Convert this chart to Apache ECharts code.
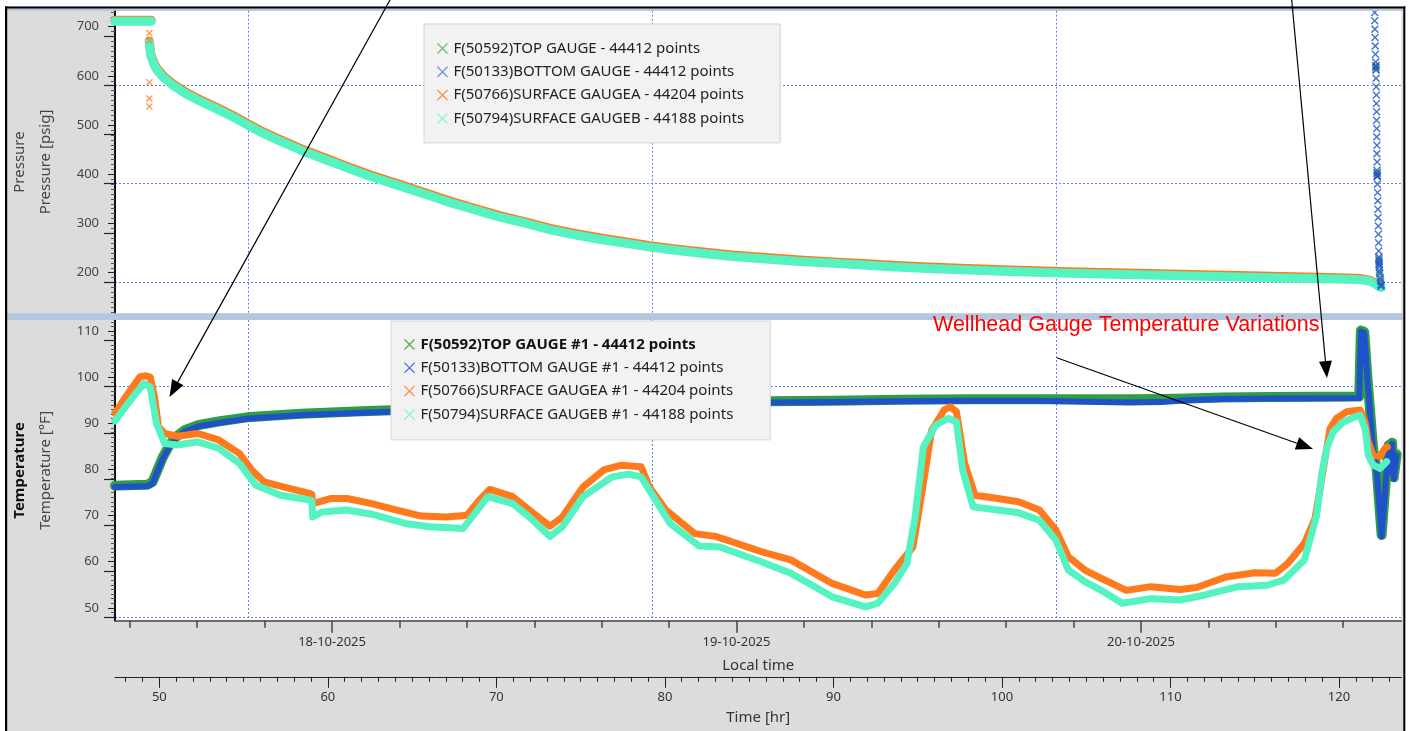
<!DOCTYPE html>
<html><head><meta charset="utf-8">
<script src="https://cdn.jsdelivr.net/npm/echarts@6/dist/echarts.min.js"></script>
<style>html,body{margin:0;padding:0;background:#fff;overflow:hidden}#c{width:1409px;height:731px;}</style>
</head><body><div id="c"></div><script>
// ---------------- DATA ----------------
const P_NAMES = ['F(50592)TOP GAUGE - 44412 points','F(50133)BOTTOM GAUGE - 44412 points','F(50766)SURFACE GAUGEA - 44204 points','F(50794)SURFACE GAUGEB - 44188 points'];
const T_NAMES = ['F(50592)TOP GAUGE #1 - 44412 points','F(50133)BOTTOM GAUGE #1 - 44412 points','F(50766)SURFACE GAUGEA #1 - 44204 points','F(50794)SURFACE GAUGEB #1 - 44188 points'];

// pressure [hr, psig]
const presB = [[47.37,711],[49.52,711],[49.45,null],[49.40,668],[49.5,640],[49.7,622],[49.9,610],[50.3,595],[50.84,580],[51.6,563],[52.4,549],[53.4,533],[54.4,516],[55.3,499],[56.0,486],[57.0,470],[58.4,449],[60.0,428],[61.3,411],[62.5,396],[64.3,376],[66.0,357],[67.2,343],[68.5,330],[70.2,313],[72.0,298],[73.2,287],[74.5,278],[76.1,268],[78.0,258],[79.1,252],[80.5,246],[82.0,240],[84.0,233],[86.0,228],[88.0,223],[90.0,219],[92.0,215],[94.0,211],[96.0,208],[98.0,205.5],[100.0,203],[104.0,199],[108.0,196],[112.0,193],[116.0,190],[120.0,187],[121.3,185.5],[121.8,183],[122.1,178],[122.3,174],[122.5,170]];
const presA = [[47.37,713],[49.52,713],[49.45,null],[49.40,671],[49.5,643],[49.7,625],[49.9,613],[50.3,598],[50.84,583],[51.6,566],[52.4,552],[53.4,536],[54.4,519],[55.3,502],[56.0,489],[57.0,473],[58.4,452],[60.0,431],[61.3,414],[62.5,399],[64.3,379],[66.0,360],[67.2,346],[68.5,333],[70.2,316],[72.0,301],[73.2,290],[74.5,281],[76.1,271],[78.0,261],[79.1,255],[80.5,249],[82.0,243],[84.0,236],[86.0,231],[88.0,226],[90.0,222],[92.0,218],[94.0,214],[96.0,211],[98.0,208.5],[100.0,206],[104.0,202],[108.0,199],[112.0,196],[116.0,193],[120.0,190],[121.3,188],[121.8,185],[122.1,180]];
const presAOutliers = [[49.41,687],[49.41,672],[49.41,587],[49.41,554],[49.41,538]];
const presBottom = [[122.12,729],[122.12,712],[122.13,695],[122.14,678],[122.15,661],[122.16,644],[122.18,628],[122.19,620],[122.19,617],[122.2,612],[122.2,595],[122.21,578],[122.22,561],[122.22,544],[122.23,527],[122.23,510],[122.24,493],[122.24,476],[122.25,459],[122.25,442],[122.26,425],[122.26,408],[122.26,402],[122.27,398],[122.27,395],[122.28,380],[122.29,363],[122.3,346],[122.31,329],[122.32,312],[122.33,295],[122.34,278],[122.35,261],[122.36,244],[122.37,232],[122.37,226],[122.38,222],[122.38,218],[122.39,212],[122.4,205],[122.42,198],[122.45,190],[122.47,182],[122.49,176],[122.5,172]];
const presTop = [[122.19,621],[122.2,613],[122.26,403],[122.27,396],[122.37,229],[122.38,216],[122.4,201],[122.46,186],[122.5,175]];

// temperature [hr, degF]
const tempTop = [[47.37,76.5],[49.3,76.7],[49.6,77.3],[49.85,79.5],[50.2,82.6],[50.6,85.3],[51.0,87.1],[51.5,88.5],[52.3,89.6],[53.5,90.4],[55.2,91.3],[58.4,92.1],[62.0,92.6],[66.0,93.1],[70.0,93.6],[74.0,94.0],[78.0,94.3],[82.0,94.6],[86.0,94.8],[90.0,94.9],[94.0,95.1],[98.0,95.2],[102.0,95.2],[105.0,95.2],[107.5,95.2],[109.5,95.3],[111.0,95.4],[113.0,95.6],[116.0,95.7],[121.2,95.8],[121.3,110.1],[121.5,109.8],[121.7,99.3],[122.03,84.3],[122.23,80.3],[122.53,65.8],[122.83,80.3],[122.95,85.3],[123.05,79.8],[123.15,85.8],[123.25,78.3],[123.42,83.3]];
const tempBottom = [[47.37,76.2],[49.3,76.4],[49.6,77.0],[49.85,79.2],[50.2,82.3],[50.6,85.0],[51.0,86.8],[51.5,88.2],[52.3,89.3],[53.5,90.1],[55.2,91.0],[58.4,91.8],[62.0,92.3],[66.0,92.8],[70.0,93.3],[74.0,93.7],[78.0,94.0],[82.0,94.3],[86.0,94.5],[90.0,94.6],[94.0,94.8],[98.0,94.9],[102.0,94.9],[105.0,94.7],[107.5,94.5],[109.5,94.6],[111.0,95.0],[113.0,95.3],[116.0,95.4],[121.2,95.5],[121.3,109.9],[121.5,109.6],[121.7,99.0],[122.03,84.0],[122.23,80.0],[122.53,65.5],[122.83,80.0],[122.95,85.0],[123.05,79.5],[123.15,85.5],[123.25,78.0],[123.42,83.0]];
const tempA = [[47.37,92.2],[48.07,96.1],[48.85,100.1],[49.2,100.3],[49.46,100.0],[49.71,95.8],[49.95,89.3],[50.32,87.8],[51.06,87.2],[52.29,87.8],[53.52,86.4],[54.75,83.5],[55.48,79.9],[56.22,77.3],[57.7,75.9],[58.92,74.8],[59.05,74.6],[59.1,72.6],[60.15,73.7],[61.14,73.7],[62.61,72.6],[64.09,71.2],[65.56,69.9],[67.03,69.7],[68.26,70.1],[69.0,73.4],[69.62,75.7],[70.97,74.1],[71.95,71.2],[73.18,67.7],[73.92,69.7],[75.14,76.2],[76.37,79.9],[77.36,80.9],[78.59,80.6],[79.08,76.2],[80.06,71.2],[81.78,66.1],[83.01,65.5],[84.24,64.0],[85.71,62.2],[87.47,60.4],[89.93,55.3],[91.9,52.8],[92.63,53.1],[93.62,58.2],[94.72,63.2],[95.21,74.1],[95.83,88.5],[96.57,92.9],[96.93,93.6],[97.3,92.5],[97.79,81.3],[98.41,74.4],[99.76,73.7],[100.99,73.0],[102.22,71.2],[103.2,66.9],[103.94,61.1],[104.92,58.2],[105.9,56.4],[107.38,53.8],[108.85,54.6],[110.57,54.0],[111.56,54.4],[113.28,56.7],[115.0,57.6],[116.23,57.5],[116.96,59.6],[117.95,64.0],[118.58,69.4],[118.88,75.9],[119.47,88.9],[119.86,91.1],[120.46,92.5],[121.25,92.9],[121.55,90.3],[121.74,86.0],[122.03,83.1],[122.43,82.8],[122.73,84.6],[122.87,84.9]];
const tempB = [[47.37,90.5],[48.07,94.0],[48.6,96.5],[49.09,98.6],[49.46,97.9],[49.83,90.0],[50.32,85.6],[51.06,85.3],[52.29,86.0],[53.52,84.6],[54.75,81.3],[55.73,76.6],[57.2,74.4],[58.92,73.4],[59.05,73.2],[59.1,69.7],[59.66,70.8],[61.14,71.2],[62.61,70.3],[64.58,68.3],[66.05,67.6],[68.02,67.2],[69.49,74.1],[70.97,72.6],[71.95,69.7],[73.18,65.5],[73.92,67.6],[75.14,74.1],[76.87,78.4],[77.85,79.0],[78.59,78.4],[79.32,74.1],[80.31,68.3],[82.03,63.4],[83.26,63.2],[85.71,60.0],[87.47,57.5],[89.93,52.4],[91.9,50.2],[92.63,51.0],[93.62,55.3],[94.36,59.6],[94.85,69.7],[95.34,84.9],[96.07,89.6],[96.81,91.1],[97.3,90.3],[97.67,79.9],[98.29,71.9],[99.76,71.2],[100.99,70.6],[102.22,69.0],[103.2,64.7],[103.94,58.2],[104.92,55.7],[105.9,53.8],[107.13,51.0],[108.85,52.0],[110.57,51.7],[112.05,52.8],[114.02,54.6],[115.74,54.9],[116.72,56.0],[117.95,60.4],[118.68,70.1],[118.97,78.8],[119.27,84.6],[119.66,88.2],[120.26,90.3],[120.76,91.1],[121.25,91.8],[121.55,88.9],[121.74,83.1],[122.03,81.0],[122.43,80.2],[122.73,81.3],[122.83,81.7]];

// axes / ticks
const hrRange = [47.37, 123.71];
const presRange = [117.5, 732.5];
const tempRange = [47.2, 112.4];
const presLabels = [200, 300, 400, 500, 600, 700];
const presLongTicks = [181, 281, 381, 481, 581, 681];
const presGrid = [181, 381, 581];
const tempLabels = [50, 60, 70, 80, 90, 100, 110];
const tempLongTicks = [47.95, 57.95, 67.95, 77.95, 87.95, 97.95, 107.95];
const tempGrid = [47.95, 97.95];
const hrLabels = [50, 60, 70, 80, 90, 100, 110, 120];
const dayTicks = [60.25, 84.25, 108.25];
const dayLabels = ['18-10-2025', '19-10-2025', '20-10-2025'];
const fourHourTicks = [48.25, 52.25, 56.25, 64.25, 68.25, 72.25, 76.25, 80.25, 88.25, 92.25, 96.25, 100.25, 104.25, 112.25, 116.25, 120.25];
const timeGrid = [55.25, 79.25, 103.25];

// ---------------- STYLE ----------------
const FONT = '"Noto Sans", "Open Sans", sans-serif';
const C = { green: '#2f9e44', blue: '#1f52c8', orange: '#ff7a1c', aqua: '#55f2c2' };
const LC = ['#4caf50', '#4a70dd', '#ff8c40', '#8ff0d4'];
const X_PATH = 'path://M0,8L8,0L50,42L92,0L100,8L58,50L100,92L92,100L50,58L8,100L0,92L42,50Z';
const X_BOLD = 'path://M0,13L13,0L50,37L87,0L100,13L63,50L100,87L87,100L50,63L13,100L0,87L37,50Z';
const GRIDLINE = { show: true, lineStyle: { color: '#5b82ee', width: 1, type: [2, 2] } };
const AX = '#222';

function hiddenGridAxis(extra) {
  return Object.assign({ type: 'value', axisLine: { show: false }, axisLabel: { show: false },
    splitLine: GRIDLINE, minorTick: { show: false } }, extra);
}

const chart = echarts.init(document.getElementById('c'), null, { renderer: 'canvas' });

function arrow(x1, y1, x2, y2) {
  const dx = x2 - x1, dy = y2 - y1, L = Math.hypot(dx, dy), ux = dx / L, uy = dy / L;
  const hl = 17, hw = 6.5;
  const bx = x2 - ux * hl, by = y2 - uy * hl;
  return [
    { type: 'line', z: 100, silent: true, shape: { x1: x1, y1: y1, x2: bx, y2: by }, style: { stroke: '#000', lineWidth: 1.2 } },
    { type: 'polygon', z: 100, silent: true, shape: { points: [[x2, y2], [bx - uy * hw, by + ux * hw], [bx + uy * hw, by - ux * hw]] }, style: { fill: '#000' } }
  ];
}

const option = {
  animation: false,
  backgroundColor: '#dcdcdc',
  grid: [
    { left: 115, top: 10.7, width: 1286.5, height: 302.6, show: true, backgroundColor: '#fff', borderWidth: 0, outerBoundsMode: 'none', containLabel: false },
    { left: 115, top: 320, width: 1286.5, height: 300.8, show: true, backgroundColor: '#fff', borderWidth: 0, outerBoundsMode: 'none', containLabel: false }
  ],
  xAxis: [
    hiddenGridAxis({ gridIndex: 0, min: hrRange[0], max: hrRange[1], position: 'bottom', axisTick: { show: false, customValues: timeGrid } }),
    { gridIndex: 1, type: 'value', min: hrRange[0], max: hrRange[1], splitNumber: 8, position: 'bottom', offset: 56,
      axisLine: { show: true, lineStyle: { color: AX, width: 1 } },
      axisTick: { show: true, length: 11, customValues: hrLabels, lineStyle: { color: AX } },
      minorTick: { show: true, splitNumber: 10, length: 5, lineStyle: { color: AX } },
      axisLabel: { customValues: hrLabels, margin: 14, color: '#333', fontSize: 13, fontFamily: FONT },
      splitLine: { show: false },
      name: 'Time [hr]', nameLocation: 'middle', nameGap: 33, nameTextStyle: { color: '#333', fontSize: 15, fontFamily: FONT } },
    { gridIndex: 1, type: 'value', min: hrRange[0], max: hrRange[1], position: 'bottom', offset: 0,
      axisLine: { show: true, lineStyle: { color: '#444', width: 1.5 } },
      axisTick: { show: true, length: 12, customValues: dayTicks, lineStyle: { color: '#444', width: 1.5 } },
      minorTick: { show: false },
      axisLabel: { customValues: dayTicks, margin: 15, color: '#333', fontSize: 13, fontFamily: FONT,
        formatter: v => { let bi = 0; dayTicks.forEach((d, i) => { if (Math.abs(d - v) < Math.abs(dayTicks[bi] - v)) bi = i; }); return dayLabels[bi]; } },
      splitLine: { show: false },
      name: 'Local time', nameLocation: 'middle', nameGap: 37, nameTextStyle: { color: '#333', fontSize: 15, fontFamily: FONT } },
    { gridIndex: 1, type: 'value', min: hrRange[0], max: hrRange[1], position: 'bottom', offset: 0,
      axisLine: { show: false },
      axisTick: { show: true, length: 7, customValues: fourHourTicks, lineStyle: { color: '#444', width: 1.5 } },
      minorTick: { show: false }, axisLabel: { show: false }, splitLine: { show: false } },
    hiddenGridAxis({ gridIndex: 1, min: hrRange[0], max: hrRange[1], position: 'bottom', axisTick: { show: false, customValues: timeGrid } })
  ],
  yAxis: [
    { gridIndex: 0, type: 'value', min: presRange[0], max: presRange[1], position: 'left',
      axisLine: { show: true, lineStyle: { color: '#000', width: 1.5 } },
      axisTick: { show: true, length: 7, customValues: presLabels, lineStyle: { color: AX } },
      minorTick: { show: true, splitNumber: 10, length: 4, lineStyle: { color: '#555' } },
      axisLabel: { customValues: presLabels, margin: 16, color: '#444', fontSize: 13, fontFamily: FONT },
      splitLine: { show: false },
      name: 'Pressure [psig]', nameLocation: 'middle', nameRotate: 90, nameGap: 62, nameTextStyle: { color: '#444', fontSize: 15, fontFamily: FONT } },
    { gridIndex: 0, type: 'value', min: presRange[0], max: presRange[1], position: 'left',
      axisLine: { show: true, lineStyle: { color: '#000', width: 1.5 } },
      axisTick: { show: true, length: 11, customValues: presLongTicks, lineStyle: { color: AX, width: 1.2 } },
      minorTick: { show: false }, axisLabel: { show: false }, splitLine: { show: false },
      name: 'Pressure', nameLocation: 'middle', nameRotate: 90, nameGap: 88, nameTextStyle: { color: '#444', fontSize: 15, fontFamily: FONT } },
    hiddenGridAxis({ gridIndex: 0, min: presRange[0], max: presRange[1], position: 'left', axisTick: { show: false, customValues: presGrid } }),
    { gridIndex: 1, type: 'value', min: tempRange[0], max: tempRange[1], position: 'left',
      axisLine: { show: true, lineStyle: { color: '#000', width: 1.5 } },
      axisTick: { show: true, length: 7, customValues: tempLabels, lineStyle: { color: AX } },
      minorTick: { show: true, splitNumber: 10, length: 4, lineStyle: { color: '#555' } },
      axisLabel: { customValues: tempLabels, margin: 16, color: '#444', fontSize: 13, fontFamily: FONT },
      splitLine: { show: false },
      name: 'Temperature [°F]', nameLocation: 'middle', nameRotate: 90, nameGap: 62, nameTextStyle: { color: '#444', fontSize: 15, fontFamily: FONT } },
    { gridIndex: 1, type: 'value', min: tempRange[0], max: tempRange[1], position: 'left',
      axisLine: { show: true, lineStyle: { color: '#000', width: 1.5 } },
      axisTick: { show: true, length: 11, customValues: tempLongTicks, lineStyle: { color: AX, width: 1.2 } },
      minorTick: { show: false }, axisLabel: { show: false }, splitLine: { show: false },
      name: 'Temperature', nameLocation: 'middle', nameRotate: 90, nameGap: 88, nameTextStyle: { color: '#111', fontSize: 15, fontWeight: 'bold', fontFamily: FONT } },
    hiddenGridAxis({ gridIndex: 1, min: tempRange[0], max: tempRange[1], position: 'left', axisTick: { show: false, customValues: tempGrid } })
  ],
  legend: [
    { data: P_NAMES.map((n, i) => ({ name: n, itemStyle: { color: LC[i] } })), icon: X_PATH, orient: 'vertical',
      left: 424, top: 24, itemWidth: 12, itemHeight: 11, itemGap: 8.3, padding: [17, 36, 17, 13], selectedMode: false,
      backgroundColor: '#f2f2f2', borderColor: '#d4d4d4', borderWidth: 1, z: 10,
      textStyle: { fontFamily: FONT, fontSize: 15, color: '#222' } },
    { data: T_NAMES.map((n, i) => ({ name: n, itemStyle: { color: LC[i] } })), icon: X_PATH, orient: 'vertical',
      left: 391, top: 321, itemWidth: 12, itemHeight: 11, itemGap: 8.3, padding: [16, 37, 18, 13], selectedMode: false,
      backgroundColor: '#f2f2f2', borderColor: '#d4d4d4', borderWidth: 1, z: 10,
      formatter: n => n === T_NAMES[0] ? '{b|' + n + '}' : n,
      textStyle: { fontFamily: FONT, fontSize: 15, color: '#222', rich: { b: { fontFamily: FONT, fontSize: 15, fontWeight: 'bold', color: '#111' } } } }
  ],
  series: [
    { type: 'line', name: P_NAMES[2], xAxisIndex: 0, yAxisIndex: 0, data: presA, symbol: 'none', connectNulls: false, z: 2,
      lineStyle: { color: C.orange, width: 9, cap: 'round', join: 'round' }, itemStyle: { color: C.orange } },
    { type: 'line', name: P_NAMES[3], xAxisIndex: 0, yAxisIndex: 0, data: presB, symbol: 'none', connectNulls: false, z: 3,
      lineStyle: { color: C.aqua, width: 9, cap: 'round', join: 'round' }, itemStyle: { color: C.aqua } },
    { type: 'scatter', name: P_NAMES[2], xAxisIndex: 0, yAxisIndex: 0, data: presAOutliers, symbol: X_BOLD, symbolSize: 7, z: 4,
      itemStyle: { color: C.orange } },
    { type: 'scatter', name: P_NAMES[0], xAxisIndex: 0, yAxisIndex: 0, data: presTop, symbol: X_BOLD, symbolSize: 8, z: 5,
      itemStyle: { color: C.green } },
    { type: 'scatter', name: P_NAMES[1], xAxisIndex: 0, yAxisIndex: 0, data: presBottom, symbol: X_BOLD, symbolSize: 8, z: 6,
      itemStyle: { color: C.blue } },
    { type: 'line', name: T_NAMES[0], xAxisIndex: 1, yAxisIndex: 3, data: tempTop, symbol: 'none', z: 2,
      lineStyle: { color: C.green, width: 10, cap: 'round', join: 'round' }, itemStyle: { color: C.green } },
    { type: 'line', name: T_NAMES[1], xAxisIndex: 1, yAxisIndex: 3, data: tempBottom, symbol: 'none', z: 3,
      lineStyle: { color: C.blue, width: 6, cap: 'round', join: 'round' }, itemStyle: { color: C.blue } },
    { type: 'line', name: T_NAMES[2], xAxisIndex: 1, yAxisIndex: 3, data: tempA, symbol: 'none', z: 4,
      lineStyle: { color: C.orange, width: 7, cap: 'round', join: 'round' }, itemStyle: { color: C.orange } },
    { type: 'line', name: T_NAMES[3], xAxisIndex: 1, yAxisIndex: 3, data: tempB, symbol: 'none', z: 5,
      lineStyle: { color: C.aqua, width: 7, cap: 'round', join: 'round' }, itemStyle: { color: C.aqua } }
  ],
  graphic: [
    { type: 'rect', z: 90, silent: true, shape: { x: 7, y: 8.5, width: 1396, height: 2.3 }, style: { fill: '#b4c7df' } },
    { type: 'rect', z: 90, silent: true, shape: { x: 7, y: 313.3, width: 1396, height: 6.7 }, style: { fill: '#b4c7df' } },
    { type: 'rect', z: 95, silent: true, shape: { x: 0, y: 0, width: 5, height: 731 }, style: { fill: '#fff' } },
    { type: 'rect', z: 95, silent: true, shape: { x: 0, y: 0, width: 1409, height: 6.5 }, style: { fill: '#fff' } },
    { type: 'rect', z: 95, silent: true, shape: { x: 1405.3, y: 0, width: 4, height: 731 }, style: { fill: '#fff' } },
    { type: 'rect', z: 96, silent: true, shape: { x: 5, y: 6.5, width: 2.2, height: 725 }, style: { fill: '#000' } },
    { type: 'rect', z: 96, silent: true, shape: { x: 5, y: 6.5, width: 1400.3, height: 2 }, style: { fill: '#000' } },
    { type: 'rect', z: 96, silent: true, shape: { x: 1403.3, y: 6.5, width: 2, height: 725 }, style: { fill: '#000' } },
    ...arrow(390, 0, 169.5, 397),
    ...arrow(1291.7, 0, 1327, 378),
    ...arrow(1056.7, 357.7, 1313, 449),
    { type: 'text', z: 100, silent: true, x: 933, y: 325,
      style: { text: 'Wellhead Gauge Temperature Variations', font: '21.5px "Liberation Sans", Arial, sans-serif', fill: '#ff0000', verticalAlign: 'middle', align: 'left' } }
  ]
};
chart.setOption(option);
</script></body></html>
